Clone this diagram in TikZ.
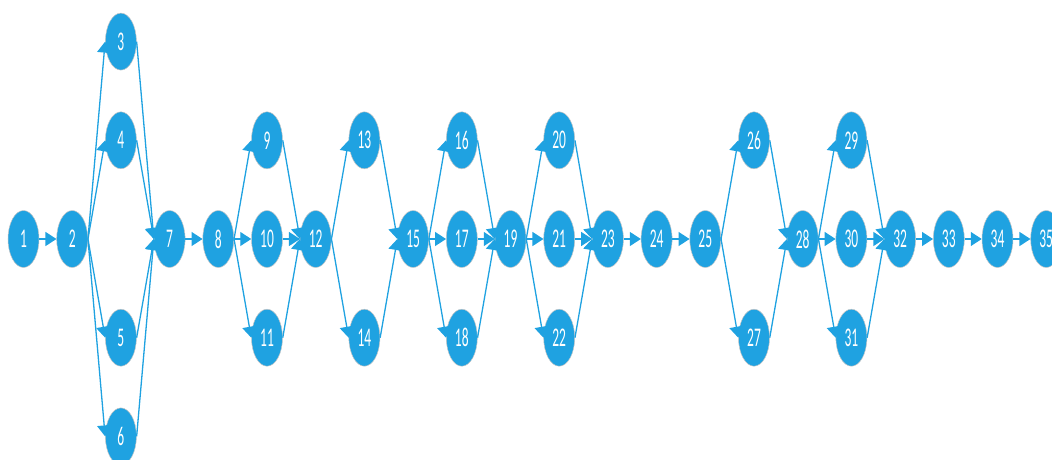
\documentclass[tikz,border=0pt]{standalone}
\usepackage{fontspec}
\usepackage{graphicx}
\setmainfont{Carlito}
\usetikzlibrary{shapes.geometric,arrows.meta}
\definecolor{biru}{RGB}{31,162,225}
\newcommand{\angka}[1]{\scalebox{0.5}[1]{#1}}
\begin{document}
\begin{tikzpicture}[x=48.7pt, y=98.7pt,
      simpul/.style={ellipse, fill=biru, draw=gray!45, line width=0.5pt, minimum width=31pt, minimum height=57pt, inner sep=0pt, text=white, font=\fontsize{27}{27}\selectfont},
      panah/.style={draw=biru, line width=1.3pt, -{Triangle[length=11pt,width=14pt]}}]
    \useasboundingbox (-23.5pt,-220pt) rectangle ++(1052pt,459pt);
    \node[simpul] (n1) at (0,0) {\angka{1}};
    \node[simpul] (n2) at (1,0) {\angka{2}};
    \node[simpul] (n3) at (2,2) {\angka{3}};
    \node[simpul] (n4) at (2,1) {\angka{4}};
    \node[simpul] (n5) at (2,-1) {\angka{5}};
    \node[simpul] (n6) at (2,-2) {\angka{6}};
    \node[simpul] (n7) at (3,0) {\angka{7}};
    \node[simpul] (n8) at (4,0) {\angka{8}};
    \node[simpul] (n9) at (5,1) {\angka{9}};
    \node[simpul] (n10) at (5,0) {\angka{10}};
    \node[simpul] (n11) at (5,-1) {\angka{11}};
    \node[simpul] (n12) at (6,0) {\angka{12}};
    \node[simpul] (n13) at (7,1) {\angka{13}};
    \node[simpul] (n14) at (7,-1) {\angka{14}};
    \node[simpul] (n15) at (8,0) {\angka{15}};
    \node[simpul] (n16) at (9,1) {\angka{16}};
    \node[simpul] (n17) at (9,0) {\angka{17}};
    \node[simpul] (n18) at (9,-1) {\angka{18}};
    \node[simpul] (n19) at (10,0) {\angka{19}};
    \node[simpul] (n20) at (11,1) {\angka{20}};
    \node[simpul] (n21) at (11,0) {\angka{21}};
    \node[simpul] (n22) at (11,-1) {\angka{22}};
    \node[simpul] (n23) at (12,0) {\angka{23}};
    \node[simpul] (n24) at (13,0) {\angka{24}};
    \node[simpul] (n25) at (14,0) {\angka{25}};
    \node[simpul] (n26) at (15,1) {\angka{26}};
    \node[simpul] (n27) at (15,-1) {\angka{27}};
    \node[simpul] (n28) at (16,0) {\angka{28}};
    \node[simpul] (n29) at (17,1) {\angka{29}};
    \node[simpul] (n30) at (17,0) {\angka{30}};
    \node[simpul] (n31) at (17,-1) {\angka{31}};
    \node[simpul] (n32) at (18,0) {\angka{32}};
    \node[simpul] (n33) at (19,0) {\angka{33}};
    \node[simpul] (n34) at (20,0) {\angka{34}};
    \node[simpul] (n35) at (21,0) {\angka{35}};
    % awal
    \draw[panah] (n1.east) -- (n2.west);
    \draw[panah] (n2.east) -- (n3.west);
    \draw[panah] (n2.east) -- (n4.west);
    \draw[panah] (n2.east) -- (n5.west);
    \draw[panah] (n2.east) -- (n6.west);
    \draw[panah] (n3.east) -- (n7.west);
    \draw[panah] (n4.east) -- (n7.west);
    \draw[panah] (n5.east) -- (n7.west);
    \draw[panah] (n6.east) -- (n7.west);
    \draw[panah] (n7.east) -- (n8.west);
    \draw[panah] (n8.east) -- (n9.west);
    \draw[panah] (n8.east) -- (n10.west);
    \draw[panah] (n8.east) -- (n11.west);
    \draw[panah] (n9.east) -- (n12.west);
    \draw[panah] (n10.east) -- (n12.west);
    \draw[panah] (n11.east) -- (n12.west);
    \draw[panah] (n12.east) -- (n13.west);
    \draw[panah] (n12.east) -- (n14.west);
    \draw[panah] (n13.east) -- (n15.west);
    \draw[panah] (n14.east) -- (n15.west);
    % tengah
    \draw[panah] (n15.east) -- (n16.west);
    \draw[panah] (n15.east) -- (n17.west);
    \draw[panah] (n15.east) -- (n18.west);
    \draw[panah] (n16.east) -- (n19.west);
    \draw[panah] (n17.east) -- (n19.west);
    \draw[panah] (n18.east) -- (n19.west);
    \draw[panah] (n19.east) -- (n20.west);
    \draw[panah] (n19.east) -- (n21.west);
    \draw[panah] (n19.east) -- (n22.west);
    \draw[panah] (n20.east) -- (n23.west);
    \draw[panah] (n21.east) -- (n23.west);
    \draw[panah] (n22.east) -- (n23.west);
    \draw[panah] (n23.east) -- (n24.west);
    \draw[panah] (n24.east) -- (n25.west);
    % akhir
    \draw[panah] (n25.east) -- (n26.west);
    \draw[panah] (n25.east) -- (n27.west);
    \draw[panah] (n26.east) -- (n28.west);
    \draw[panah] (n27.east) -- (n28.west);
    \draw[panah] (n28.east) -- (n29.west);
    \draw[panah] (n28.east) -- (n30.west);
    \draw[panah] (n28.east) -- (n31.west);
    \draw[panah] (n29.east) -- (n32.west);
    \draw[panah] (n30.east) -- (n32.west);
    \draw[panah] (n31.east) -- (n32.west);
    \draw[panah] (n32.east) -- (n33.west);
    \draw[panah] (n33.east) -- (n34.west);
    \draw[panah] (n34.east) -- (n35.west);
  \end{tikzpicture}
\end{document}
